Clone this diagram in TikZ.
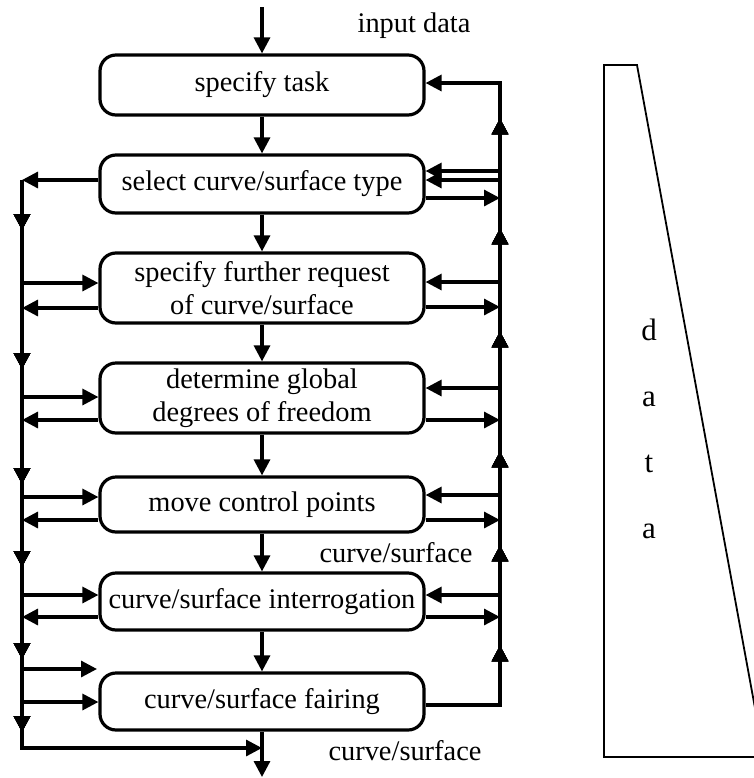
\documentclass[tikz,border=0pt]{standalone}
\usepackage{fontspec}
\setmainfont{Liberation Serif}
\usetikzlibrary{arrows.meta,decorations.markings}
\begin{document}
\begin{tikzpicture}[x=0.5pt,y=-0.5pt,
  flow/.style={line width=1.6pt},
  arr/.style={flow,-{Triangle[length=8pt,width=8pt]}},
  tipmark/.style={postaction={decorate},decoration={markings,
     mark=at position #1 with {\arrow{Triangle[length=8pt,width=8pt]}}}},
  box/.style={draw,line width=1.6pt,rounded corners=8pt,minimum width=162pt,
     inner sep=1pt,align=center,font=\fontsize{14.2}{16.5}\selectfont},
  lbl/.style={font=\fontsize{14.2}{16.5}\selectfont,inner sep=0pt},
  dl/.style={font=\fontsize{15.5}{18}\selectfont,inner sep=0pt},
  thinline/.style={line width=0.9pt},
  ]
\useasboundingbox (0,0) rectangle (754,778);

% boxes
\node[box,minimum height=30pt]   (b1) at (262,85)    {specify task};
\node[box,minimum height=29pt]   (b2) at (262,184)   {select curve/surface type};
\node[box,minimum height=35pt]   (b3) at (262,288)   {specify further request\\of curve/surface};
\node[box,minimum height=35pt]   (b4) at (262,398)   {determine global\\degrees of freedom};
\node[box,minimum height=27.5pt] (b5) at (262,504.5) {move control points};
\node[box,minimum height=28.5pt] (b6) at (262,601.5) {curve/surface interrogation};
\node[box,minimum height=28.5pt] (b7) at (262,701.5) {curve/surface fairing};

% labels
\node[lbl,anchor=base] (lin)  at (414,32)  {input data};
\node[lbl,anchor=base] (lcs1) at (396,562) {curve/surface};
\node[lbl,anchor=base] (lcs2) at (405,760) {curve/surface};

% coordinates
\coordinate (top) at (262,7);
\coordinate (out) at (262,777);
\coordinate (junc) at (262,748);
% right bus
\coordinate (Rtop) at (500,83);
\coordinate (R2a) at (500,171);
\coordinate (R2b) at (500,180);
\coordinate (R2o) at (500,198);
\coordinate (R3i) at (500,282);
\coordinate (R3o) at (500,307);
\coordinate (R4i) at (500,388);
\coordinate (R4o) at (500,420);
\coordinate (R5i) at (500,495);
\coordinate (R5o) at (500,520);
\coordinate (R6i) at (500,595);
\coordinate (R6o) at (500,617);
\coordinate (R7o) at (500,705);
% left bus
\coordinate (L2o) at (22,180);
\coordinate (L3i) at (22,283);
\coordinate (L3o) at (22,308);
\coordinate (L4i) at (22,397);
\coordinate (L4o) at (22,420);
\coordinate (L5i) at (22,497);
\coordinate (L5o) at (22,520);
\coordinate (L6i) at (22,595);
\coordinate (L6o) at (22,617);
\coordinate (L7a) at (22,669);
\coordinate (L7aend) at (97,669);
\coordinate (L7i) at (22,702);
\coordinate (Lbot) at (22,748);

% main flow
\draw[arr] (top) -- (b1.north);
\draw[arr] (b1) -- (b2);
\draw[arr] (b2) -- (b3);
\draw[arr] (b3) -- (b4);
\draw[arr] (b4) -- (b5);
\draw[arr] (b5) -- (b6);
\draw[arr] (b6) -- (b7);
\draw[arr] (b7) -- (out);

% right bus with up arrows (first 38pt is the horizontal part)
\draw[arr,tipmark=67pt,tipmark=117pt,tipmark=164pt,tipmark=224pt,tipmark=275.5pt,tipmark=330.5pt]
  (b7.east |- R7o) -- (R7o) -- (Rtop) -- (b1.east |- Rtop);
\draw[arr] (R2a) -- (b2.east |- R2a);
\draw[arr] (R2b) -- (b2.east |- R2b);
\draw[arr] (b2.east |- R2o) -- (R2o);
\draw[arr] (R3i) -- (b3.east |- R3i);
\draw[arr] (b3.east |- R3o) -- (R3o);
\draw[arr] (R4i) -- (b4.east |- R4i);
\draw[arr] (b4.east |- R4o) -- (R4o);
\draw[arr] (R5i) -- (b5.east |- R5i);
\draw[arr] (b5.east |- R5o) -- (R5o);
\draw[arr] (R6i) -- (b6.east |- R6i);
\draw[arr] (b6.east |- R6o) -- (R6o);

% left bus with down arrows
\draw[arr] (b2.west |- L2o) -- (L2o);
\draw[arr,tipmark=25pt,tipmark=94.5pt,tipmark=152pt,tipmark=193.5pt,tipmark=239.5pt,tipmark=276pt]
  (L2o) -- (Lbot) -- (junc);
\draw[arr] (L3i) -- (b3.west |- L3i);
\draw[arr] (b3.west |- L3o) -- (L3o);
\draw[arr] (L4i) -- (b4.west |- L4i);
\draw[arr] (b4.west |- L4o) -- (L4o);
\draw[arr] (L5i) -- (b5.west |- L5i);
\draw[arr] (b5.west |- L5o) -- (L5o);
\draw[arr] (L6i) -- (b6.west |- L6i);
\draw[arr] (b6.west |- L6o) -- (L6o);
\draw[arr] (L7a) -- (L7aend);
\draw[arr] (L7i) -- (b7.west |- L7i);

% data trapezoid
\begin{scope}
\clip (0,0) rectangle (754,778);
\draw[thinline] (604,65) -- (637,65) -- (764,757) -- (604,757) -- cycle;
\end{scope}
\node[dl,anchor=base] (d1) at (649,340) {d};
\node[dl,anchor=base] (d2) at (649,406) {a};
\node[dl,anchor=base] (d3) at (649,472) {t};
\node[dl,anchor=base] (d4) at (649,538) {a};
\end{tikzpicture}
\end{document}
